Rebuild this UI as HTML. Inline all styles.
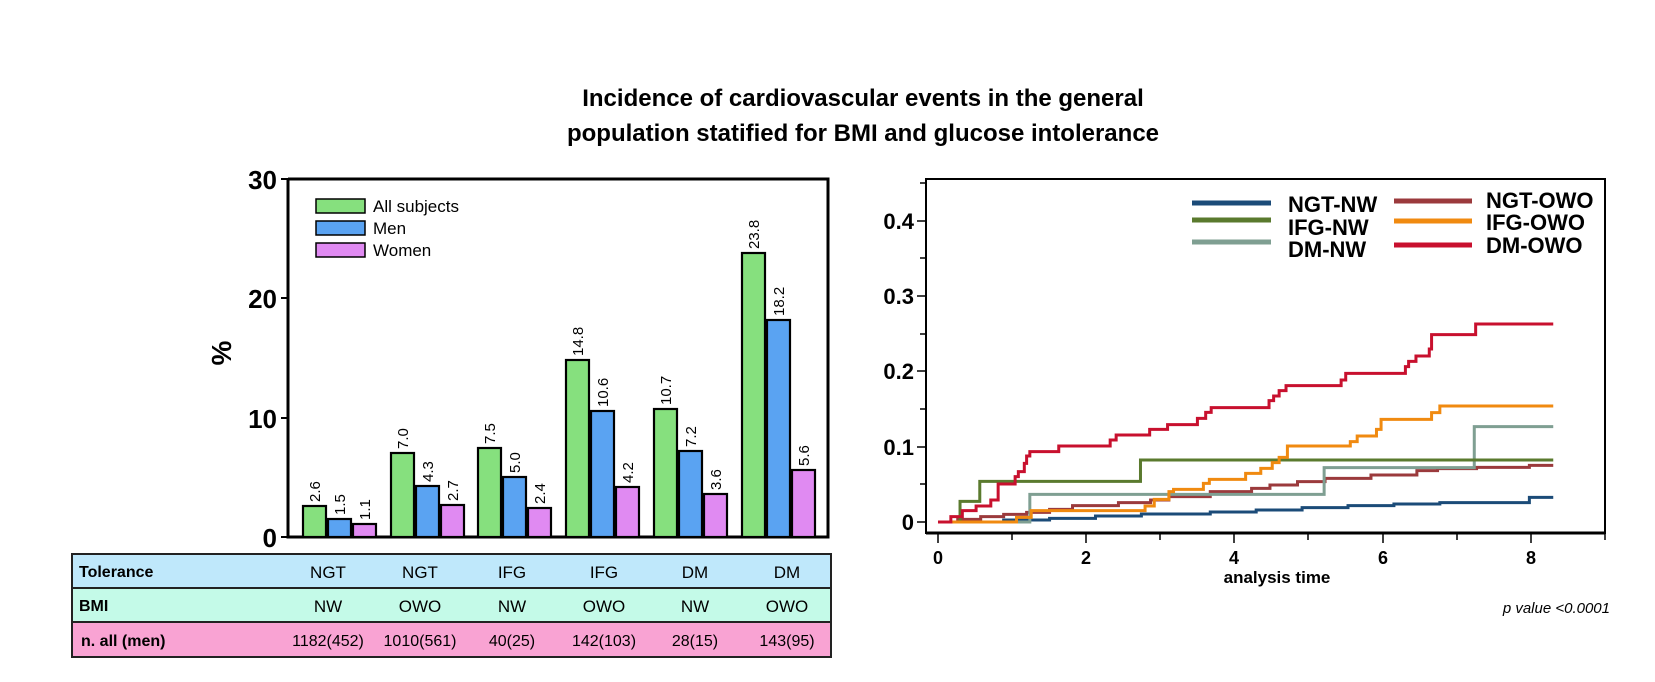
<!DOCTYPE html>
<html><head><meta charset="utf-8"><style>
html,body{margin:0;padding:0;background:#fff;}
svg{display:block;font-family:"Liberation Sans",Arial,sans-serif;}
</style></head><body>
<svg width="1655" height="682" viewBox="0 0 1655 682" xmlns="http://www.w3.org/2000/svg">
<!-- Title -->
<text x="863" y="106" font-size="24" font-weight="bold" text-anchor="middle">Incidence of cardiovascular events in the general</text>
<text x="863" y="141" font-size="24" font-weight="bold" text-anchor="middle">population statified for BMI and glucose intolerance</text>

<!-- LEFT CHART -->
<g stroke="#000" stroke-width="3" fill="none">
<polyline points="288,179 828,179 828,537 288,537 288,179"/>
</g>
<g stroke="#000" stroke-width="2">
<line x1="281" y1="179" x2="288" y2="179"/><line x1="281" y1="298" x2="288" y2="298"/>
<line x1="281" y1="418" x2="288" y2="418"/><line x1="281" y1="537" x2="288" y2="537"/>
</g>
<g font-size="26" font-weight="bold" text-anchor="end">
<text x="277" y="189">30</text><text x="277" y="308">20</text><text x="277" y="428">10</text><text x="277" y="547">0</text>
</g>
<text transform="translate(231,353) rotate(-90)" font-size="28" font-weight="bold" text-anchor="middle">%</text>
<!-- legend -->
<g stroke="#000" stroke-width="1.5">
<rect x="316" y="199" width="49" height="14" fill="#86e07e"/>
<rect x="316" y="221" width="49" height="14" fill="#5aa3f2"/>
<rect x="316" y="243" width="49" height="14" fill="#e08af2"/>
</g>
<g font-size="17"><text x="373" y="212">All subjects</text><text x="373" y="234">Men</text><text x="373" y="256">Women</text></g>
<!-- bars -->
<g stroke="#000" stroke-width="2.2">
<rect x="303" y="506" width="23" height="31" fill="#86e07e"/><rect x="328" y="519" width="23" height="18" fill="#5aa3f2"/><rect x="353" y="524" width="23" height="13" fill="#e08af2"/>
<rect x="391" y="453" width="23" height="84" fill="#86e07e"/><rect x="416" y="486" width="23" height="51" fill="#5aa3f2"/><rect x="441" y="505" width="23" height="32" fill="#e08af2"/>
<rect x="478" y="448" width="23" height="89" fill="#86e07e"/><rect x="503" y="477" width="23" height="60" fill="#5aa3f2"/><rect x="528" y="508" width="23" height="29" fill="#e08af2"/>
<rect x="566" y="360" width="23" height="177" fill="#86e07e"/><rect x="591" y="411" width="23" height="126" fill="#5aa3f2"/><rect x="616" y="487" width="23" height="50" fill="#e08af2"/>
<rect x="654" y="409" width="23" height="128" fill="#86e07e"/><rect x="679" y="451" width="23" height="86" fill="#5aa3f2"/><rect x="704" y="494" width="23" height="43" fill="#e08af2"/>
<rect x="742" y="253" width="23" height="284" fill="#86e07e"/><rect x="767" y="320" width="23" height="217" fill="#5aa3f2"/><rect x="792" y="470" width="23" height="67" fill="#e08af2"/>
</g>
<g font-size="15">
<text transform="translate(320,502) rotate(-90)">2.6</text><text transform="translate(345,515) rotate(-90)">1.5</text><text transform="translate(370,520) rotate(-90)">1.1</text>
<text transform="translate(408,449) rotate(-90)">7.0</text><text transform="translate(433,482) rotate(-90)">4.3</text><text transform="translate(458,501) rotate(-90)">2.7</text>
<text transform="translate(495,444) rotate(-90)">7.5</text><text transform="translate(520,473) rotate(-90)">5.0</text><text transform="translate(545,504) rotate(-90)">2.4</text>
<text transform="translate(583,356) rotate(-90)">14.8</text><text transform="translate(608,407) rotate(-90)">10.6</text><text transform="translate(633,483) rotate(-90)">4.2</text>
<text transform="translate(671,405) rotate(-90)">10.7</text><text transform="translate(696,447) rotate(-90)">7.2</text><text transform="translate(721,490) rotate(-90)">3.6</text>
<text transform="translate(759,249) rotate(-90)">23.8</text><text transform="translate(784,316) rotate(-90)">18.2</text><text transform="translate(809,466) rotate(-90)">5.6</text>
</g>

<!-- TABLE -->
<rect x="72" y="554" width="759" height="34" fill="#bfe8fb"/>
<rect x="72" y="588" width="759" height="34" fill="#c4fae8"/>
<rect x="72" y="622" width="759" height="35" fill="#f9a3d3"/>
<g stroke="#222" stroke-width="2" fill="none">
<rect x="72" y="554" width="759" height="103"/>
<line x1="72" y1="588" x2="831" y2="588"/><line x1="72" y1="622" x2="831" y2="622"/>
</g>
<g font-size="16" font-weight="bold"><text x="79" y="577">Tolerance</text><text x="79" y="611">BMI</text><text x="81" y="646">n. all (men)</text></g>
<g font-size="17" text-anchor="middle">
<text x="328" y="578">NGT</text><text x="420" y="578">NGT</text><text x="512" y="578">IFG</text><text x="604" y="578">IFG</text><text x="695" y="578">DM</text><text x="787" y="578">DM</text>
<text x="328" y="612">NW</text><text x="420" y="612">OWO</text><text x="512" y="612">NW</text><text x="604" y="612">OWO</text><text x="695" y="612">NW</text><text x="787" y="612">OWO</text>
</g>
<g font-size="16" text-anchor="middle">
<text x="328" y="646">1182(452)</text><text x="420" y="646">1010(561)</text><text x="512" y="646">40(25)</text><text x="604" y="646">142(103)</text><text x="695" y="646">28(15)</text><text x="787" y="646">143(95)</text>
</g>

<!-- RIGHT CHART -->
<rect x="926" y="179" width="679" height="354" fill="none" stroke="#000" stroke-width="2"/>
<line x1="926" y1="533" x2="1605" y2="533" stroke="#000" stroke-width="3"/>
<g stroke="#000" stroke-width="1.5">
<line x1="917" y1="522" x2="926" y2="522"/><line x1="920" y1="484" x2="926" y2="484"/>
<line x1="917" y1="447" x2="926" y2="447"/><line x1="920" y1="409" x2="926" y2="409"/>
<line x1="917" y1="371" x2="926" y2="371"/><line x1="920" y1="334" x2="926" y2="334"/>
<line x1="917" y1="296" x2="926" y2="296"/><line x1="920" y1="258" x2="926" y2="258"/>
<line x1="917" y1="221" x2="926" y2="221"/><line x1="920" y1="183" x2="926" y2="183"/>
<line x1="938" y1="533" x2="938" y2="543"/><line x1="1012" y1="533" x2="1012" y2="540"/>
<line x1="1086" y1="533" x2="1086" y2="543"/><line x1="1160" y1="533" x2="1160" y2="540"/>
<line x1="1234" y1="533" x2="1234" y2="543"/><line x1="1308" y1="533" x2="1308" y2="540"/>
<line x1="1383" y1="533" x2="1383" y2="543"/><line x1="1457" y1="533" x2="1457" y2="540"/>
<line x1="1531" y1="533" x2="1531" y2="543"/><line x1="1605" y1="533" x2="1605" y2="540"/>
</g>
<g font-size="22" font-weight="bold" text-anchor="end">
<text x="914" y="530">0</text><text x="914" y="455">0.1</text><text x="914" y="379">0.2</text><text x="914" y="304">0.3</text><text x="914" y="229">0.4</text>
</g>
<g font-size="18" font-weight="bold" text-anchor="middle">
<text x="938" y="564">0</text><text x="1086" y="564">2</text><text x="1234" y="564">4</text><text x="1383" y="564">6</text><text x="1531" y="564">8</text>
</g>
<text x="1277" y="583" font-size="17" font-weight="bold" text-anchor="middle">analysis time</text>
<text x="1610" y="613" font-size="15" font-style="italic" text-anchor="end">p value &lt;0.0001</text>

<!-- legend -->
<g stroke-width="5">
<line x1="1192" y1="203" x2="1271" y2="203" stroke="#1b4b78"/>
<line x1="1192" y1="220" x2="1271" y2="220" stroke="#5a7a2e"/>
<line x1="1192" y1="242" x2="1271" y2="242" stroke="#7f9f92"/>
<line x1="1394" y1="201" x2="1472" y2="201" stroke="#9b3a3c"/>
<line x1="1394" y1="221" x2="1472" y2="221" stroke="#f08a10"/>
<line x1="1394" y1="245" x2="1472" y2="245" stroke="#c8102e"/>
</g>
<g font-size="22" font-weight="bold">
<text x="1288" y="212">NGT-NW</text><text x="1288" y="235">IFG-NW</text><text x="1288" y="257">DM-NW</text>
<text x="1486" y="208">NGT-OWO</text><text x="1486" y="230">IFG-OWO</text><text x="1486" y="253">DM-OWO</text>
</g>

<!-- curves in zoom coords -->
<g transform="translate(820,160) scale(0.45914,0.33333)" fill="none" stroke-width="3">
<path vector-effect="non-scaling-stroke" stroke="#1b4b78" d="M257,1086 H400 V1080 H500 V1075 H600 V1068 H700 V1062 H850 V1056 H950 V1050 H1050 V1043 H1150 V1037 H1250 V1032 H1350 V1028 H1545 V1012 H1597"/>
<path vector-effect="non-scaling-stroke" stroke="#9b3a3c" d="M257,1086 H300 V1078 H350 V1070 H400 V1063 H450 V1057 H500 V1048 H550 V1037 H650 V1028 H720 V1020 H760 V1010 H850 V995 H940 V985 H980 V975 H1040 V965 H1100 V955 H1200 V945 H1300 V932 H1345 V926 H1430 V922 H1545 V916 H1597"/>
<path vector-effect="non-scaling-stroke" stroke="#7f9f92" d="M257,1086 H457 V1003 H1098 V923 H1425 V800 H1597"/>
<path vector-effect="non-scaling-stroke" stroke="#5a7a2e" d="M257,1086 H305 V1024 H348 V964 H698 V900 H1597"/>
<path vector-effect="non-scaling-stroke" stroke="#f08a10" d="M257,1086 H428 V1072 H460 V1052 H708 V1038 H728 V1018 H760 V995 H770 V988 H835 V970 H848 V958 H927 V940 H960 V925 H985 V908 H1000 V892 H1018 V858 H1155 V845 H1170 V828 H1212 V808 H1222 V778 H1332 V758 H1350 V738 H1597"/>
<path vector-effect="non-scaling-stroke" stroke="#c8102e" d="M257,1086 H285 V1070 H310 V1052 H340 V1038 H372 V1020 H388 V972 H425 V950 H432 V935 H445 V910 H450 V888 H457 V875 H520 V858 H632 V840 H645 V825 H718 V808 H757 V794 H822 V775 H840 V757 H852 V743 H978 V722 H988 V708 H1000 V692 H1015 V677 H1135 V660 H1145 V640 H1275 V620 H1282 V604 H1298 V588 H1327 V567 H1332 V524 H1428 V492 H1597"/>
</g>
</svg>
</body></html>
